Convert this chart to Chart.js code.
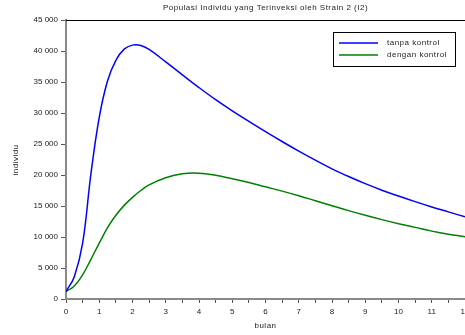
<!DOCTYPE html>
<html>
<head>
<meta charset="utf-8">
<script src="https://cdn.jsdelivr.net/npm/chart.js@4"></script>
<style>
  html, body { margin: 0; padding: 0; background: #fff; }
  #wrap { width: 465px; height: 335px; }
</style>
</head>
<body>
<div id="wrap"><canvas id="canvas1" width="465" height="335"></canvas></div>
<script>
// waktu (bulan)
const Bulan = [0, 0.25, 0.5, 0.75, 1, 1.25, 1.5, 1.75, 2, 2.25, 2.5, 3, 3.5, 4, 4.5, 5, 5.5, 6, 6.5, 7, 7.5, 8, 8.5, 9, 9.5, 10, 10.5, 11, 11.5, 12];
// I2 tanpa kontrol
const TanpaKontrol = [1200, 3600, 9000, 20200, 29300, 35200, 38500, 40300, 40950, 40900, 40250, 38250, 36150, 34100, 32150, 30350, 28650, 27000, 25400, 23850, 22400, 21000, 19750, 18600, 17550, 16600, 15700, 14850, 14050, 13250];
// I2 dengan kontrol
const DenganKontrol = [1200, 2100, 3900, 6400, 9000, 11500, 13500, 15100, 16400, 17500, 18400, 19550, 20200, 20300, 19950, 19400, 18800, 18100, 17400, 16650, 15850, 15050, 14250, 13500, 12800, 12150, 11550, 10950, 10450, 10050];

const Judul = 'Populasi Individu yang Terinveksi oleh Strain 2 (I2)';
const LabelX = 'bulan';
const LabelY = 'individu';
const FONT = '"Liberation Sans", Arial, sans-serif';

function toPoints(ys) {
    return Bulan.map((b, i) => ({ x: b, y: ys[i] }));
}

function formatRibuan(v) {
    return String(v).replace(/\B(?=(\d{3})+(?!\d))/g, ' ');
}

// judul, label sumbu, garis atas dan legenda
const hiasan = {
    id: 'hiasan',
    afterDraw(chart) {
        const ctx = chart.ctx;
        const a = chart.chartArea;
        ctx.save();
        // garis atas
        ctx.strokeStyle = '#000';
        ctx.lineWidth = 1;
        ctx.beginPath();
        ctx.moveTo(a.left, a.top + 0.5);
        ctx.lineTo(a.right, a.top + 0.5);
        ctx.stroke();

        ctx.fillStyle = '#222';
        ctx.font = '8px ' + FONT;
        ctx.textAlign = 'center';
        ctx.textBaseline = 'middle';
        ctx.letterSpacing = '0.5px';
        ctx.fillText(Judul, (a.left + a.right) / 2, 8);
        ctx.fillText(LabelX, (a.left + a.right) / 2, 326);
        ctx.translate(16, 160);
        ctx.rotate(-Math.PI / 2);
        ctx.fillText(LabelY, 0, 0);
        ctx.setTransform(1, 0, 0, 1, 0, 0);

        // legenda
        const lx = 333, ly = 32, lw = 122, lh = 34;
        ctx.fillStyle = '#fff';
        ctx.fillRect(lx, ly, lw, lh);
        ctx.strokeStyle = '#000';
        ctx.strokeRect(lx + 0.5, ly + 0.5, lw, lh);
        ctx.textAlign = 'left';
        chart.data.datasets.forEach((ds, i) => {
            const y = ly + 11 + i * 12;
            ctx.strokeStyle = ds.borderColor;
            ctx.lineWidth = 1.5;
            ctx.beginPath();
            ctx.moveTo(lx + 6, y);
            ctx.lineTo(lx + 45, y);
            ctx.stroke();
            ctx.fillStyle = '#222';
            ctx.fillText(ds.label, lx + 54, y);
        });
        ctx.restore();
    }
};

function BuatGrafik() {
    const data = {
        datasets: [{
            label: 'tanpa kontrol',
            data: toPoints(TanpaKontrol),
            borderColor: '#0000ff',
            borderWidth: 1.5,
            pointRadius: 0,
            tension: 0.4,
            fill: false
        }, {
            label: 'dengan kontrol',
            data: toPoints(DenganKontrol),
            borderColor: '#008000',
            borderWidth: 1.5,
            pointRadius: 0,
            tension: 0.4,
            fill: false
        }]
    };

    const config = {
        type: 'line',
        data: data,
        plugins: [hiasan],
        options: {
            responsive: false,
            animation: false,
            layout: { padding: { top: 20, left: 0, right: 0, bottom: 0 } },
            plugins: {
                legend: { display: false },
                title: { display: false },
                tooltip: { enabled: false }
            },
            scales: {
                x: {
                    type: 'linear',
                    min: 0,
                    max: 12,
                    border: { color: '#8a8a8a', width: 2 },
                    grid: { drawOnChartArea: false, tickLength: 4, color: '#555' },
                    ticks: {
                        stepSize: 0.5,
                        autoSkip: false,
                        maxRotation: 0,
                        padding: 4,
                        color: '#222',
                        font: { family: FONT, size: 8 },
                        callback: v => Number.isInteger(v) ? String(v) : ''
                    },
                    afterFit: s => { s.height = 36; s.paddingLeft = 0; s.paddingRight = 0; }
                },
                y: {
                    min: 0,
                    max: 45000,
                    border: { color: '#8a8a8a', width: 2 },
                    grid: { drawOnChartArea: false, tickLength: 5, color: '#555' },
                    ticks: {
                        stepSize: 5000,
                        padding: 3,
                        color: '#222',
                        font: { family: FONT, size: 8 },
                        callback: v => formatRibuan(v)
                    },
                    afterFit: s => { s.width = 66; s.paddingTop = 0; s.paddingBottom = 0; }
                }
            }
        }
    };

    const chart = new Chart(document.getElementById('canvas1'), config);
}

BuatGrafik();
</script>
</body>
</html>
